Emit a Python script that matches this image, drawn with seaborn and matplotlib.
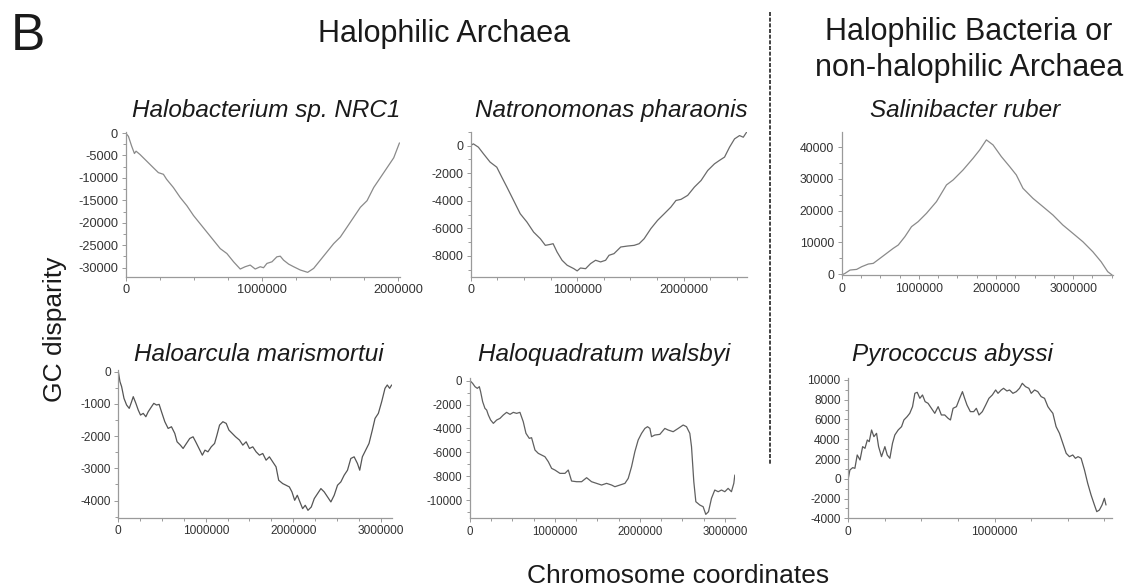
import numpy as np
import matplotlib
matplotlib.use("Agg")
import matplotlib.pyplot as plt
import seaborn as sns
from matplotlib.lines import Line2D
from matplotlib.ticker import MultipleLocator, FuncFormatter

# ---------------- data (positions in Mb, GC disparity values) ----------------
titles = ["Halobacterium sp. NRC1", "Natronomonas pharaonis", "Salinibacter ruber",
          "Haloarcula marismortui", "Haloquadratum walsbyi", "Pyrococcus abyssi"]

halobacterium_x = [0, .020, .044, .064, .076, .105, .154, .203, .240, .277, .300, .350, .400, .449, .498,
                   .547, .596, .645, .694, .743, .792, .841, .877, .914, .951, .988, 1.012, 1.037, 1.074,
                   1.110, 1.135, 1.159, 1.196, 1.233, 1.282, 1.336, 1.380, 1.429, 1.478, 1.527, 1.576,
                   1.625, 1.674, 1.723, 1.772, 1.821, 1.870, 1.919, 1.968, 2.010]
halobacterium_y = [0, -735, -2940, -4560, -4040, -4780, -6250, -7720, -8820, -9190, -10290, -12130,
                   -14340, -16180, -18380, -20220, -22060, -23900, -25740, -26840, -28680, -30290,
                   -29780, -29410, -30290, -29780, -30000, -29040, -28680, -27570, -27430, -28310,
                   -29190, -29780, -30510, -31030, -30150, -28310, -26470, -24630, -23160, -20960,
                   -18750, -16540, -15070, -12130, -9930, -7720, -5510, -2200]

natronomonas_x = [0, .025, .072, .120, .182, .245, .292, .340, .403, .465, .528, .591, .654, .701, .748,
                  .774, .811, .858, .906, .969, 1.000, 1.031, 1.079, 1.126, 1.173, 1.220, 1.267, 1.299,
                  1.346, 1.409, 1.472, 1.535, 1.582, 1.629, 1.692, 1.755, 1.818, 1.880, 1.928, 1.975,
                  2.038, 2.101, 2.164, 2.226, 2.289, 2.336, 2.384, 2.431, 2.478, 2.525, 2.560, 2.590]
natronomonas_y = [0, 120, -120, -600, -1200, -1570, -2290, -3010, -3980, -4940, -5540, -6270, -6750,
                  -7230, -7160, -7110, -7710, -8310, -8670, -8920, -9080, -8870, -8920, -8550, -8310,
                  -8430, -8310, -7950, -7830, -7350, -7280, -7230, -7110, -6750, -6020, -5420, -4940,
                  -4460, -3980, -3900, -3610, -3010, -2530, -1810, -1330, -1080, -840, -120, 480, 720,
                  600, 950]

salinibacter_x = [0, .043, .108, .194, .259, .345, .409, .496, .582, .668, .733, .819, .905, .991, 1.099,
                  1.228, 1.358, 1.444, 1.573, 1.703, 1.789, 1.875, 1.961, 2.069, 2.177, 2.263, 2.349,
                  2.478, 2.608, 2.737, 2.866, 2.996, 3.125, 3.254, 3.362, 3.448, 3.504]
salinibacter_y = [-300, 210, 1260, 1470, 2320, 3160, 3370, 4950, 6530, 8110, 9160, 11790, 14950, 16530,
                  19160, 22840, 28110, 29680, 32840, 36530, 39160, 42320, 40740, 37050, 33890, 31260,
                  27050, 23890, 21260, 18630, 15470, 12840, 10210, 7050, 3890, 740, -300]

haloarcula_x = [0, .019, .038, .065, .095, .125, .152, .171, .201, .228,
                .254, .285, .315, .342, .38, .406, .437, .467, .494, .532,
                .57, .608, .646, .672, .71, .741, .779, .817, .855, .885,
                .923, .961, .991, 1.025, 1.063, 1.101, 1.128, 1.158, 1.196, 1.234,
                1.265, 1.303, 1.341, 1.386, 1.424, 1.462, 1.5, 1.538, 1.576, 1.614,
                1.652, 1.69, 1.728, 1.766, 1.804, 1.834, 1.88, 1.918, 1.956, 1.986,
                2.017, 2.047, 2.077, 2.108, 2.138, 2.169, 2.207, 2.241, 2.279, 2.317,
                2.355, 2.393, 2.431, 2.469, 2.507, 2.545, 2.583, 2.621, 2.659, 2.697,
                2.735, 2.761, 2.791, 2.829, 2.867, 2.905, 2.936, 2.974, 3.012, 3.05,
                3.076, 3.103, 3.126]
haloarcula_y = [0, -311, -466, -829, -1036, -1140, -933, -777, -984, -1192,
                -1347, -1295, -1399, -1244, -1088, -984, -1036, -1016, -1244, -1554,
                -1762, -1710, -1917, -2176, -2280, -2383, -2228, -2073, -2021, -2176,
                -2383, -2591, -2435, -2487, -2332, -2228, -1969, -1658, -1554, -1606,
                -1813, -1917, -2021, -2124, -2280, -2176, -2383, -2332, -2487, -2591,
                -2539, -2746, -2642, -2798, -2953, -3368, -3472, -3523, -3575, -3731,
                -3990, -3834, -4041, -4249, -4145, -4301, -4197, -3938, -3782, -3627,
                -3731, -3886, -4041, -3834, -3523, -3420, -3212, -3057, -2694, -2642,
                -2850, -3057, -2642, -2435, -2228, -1813, -1451, -1295, -933, -518,
                -415, -518, -415]

haloquadratum_x = [0, .031, .059, .086, .11, .125, .149, .176, .196, .216,
                   .243, .275, .314, .353, .392, .431, .471, .51, .549, .588,
                   .627, .659, .698, .725, .765, .804, .843, .882, .922, .961,
                   1.0, 1.059, 1.118, 1.157, 1.196, 1.255, 1.314, 1.373, 1.431, 1.49,
                   1.549, 1.608, 1.667, 1.706, 1.765, 1.824, 1.863, 1.902, 1.941, 1.98,
                   2.02, 2.059, 2.09, 2.118, 2.137, 2.176, 2.235, 2.294, 2.333, 2.392,
                   2.451, 2.51, 2.549, 2.588, 2.608, 2.635, 2.659, 2.706, 2.745, 2.776,
                   2.808, 2.843, 2.882, 2.922, 2.961, 3.0, 3.039, 3.078, 3.106, 3.118]
haloquadratum_y = [0, -223, -503, -642, -503, -922, -1760, -2318, -2458, -2877,
                   -3296, -3575, -3296, -3156, -2877, -2654, -2821, -2654, -2737, -2654,
                   -3436, -4413, -4832, -4777, -5810, -6089, -6229, -6369, -6788, -7346,
                   -7486, -7765, -7765, -7486, -8408, -8464, -8464, -8128, -8464, -8603,
                   -8743, -8603, -8743, -8883, -8743, -8603, -8184, -7207, -5950, -4972,
                   -4413, -4000, -3855, -4000, -4693, -4553, -4497, -4000, -4134, -4274,
                   -4000, -3715, -3855, -4413, -5531, -8464, -10140, -10419, -10559, -11201,
                   -10978, -9860, -9162, -9302, -9162, -9302, -9022, -9302, -8603, -7905]

pyrococcus_x = [0, .011, .03, .045, .061, .08, .098, .114, .13, .143,
                .159, .175, .193, .207, .227, .25, .266, .284, .302, .318,
                .341, .364, .38, .402, .42, .439, .455, .471, .489, .507,
                .525, .545, .568, .591, .614, .636, .659, .682, .698, .716,
                .739, .761, .78, .795, .811, .834, .857, .875, .893, .916,
                .939, .961, .984, 1.007, 1.023, 1.045, 1.061, 1.084, 1.102, 1.125,
                1.148, 1.17, 1.189, 1.211, 1.234, 1.25, 1.273, 1.295, 1.318, 1.341,
                1.364, 1.38, 1.398, 1.42, 1.443, 1.466, 1.489, 1.511, 1.534, 1.552,
                1.57, 1.591, 1.614, 1.636, 1.659, 1.682, 1.698, 1.716, 1.734, 1.75,
                1.761]
pyrococcus_y = [47, 890, 1127, 1059, 2409, 1903, 3253, 3084, 3927, 3758,
                4939, 4264, 4602, 3253, 2241, 3253, 2409, 2072, 3590, 4433,
                4939, 5277, 5952, 6289, 6626, 7301, 8650, 8752, 8144, 8481,
                7807, 7638, 7132, 6626, 7301, 6458, 6458, 6120, 5952, 7132,
                7301, 8144, 8819, 8144, 7469, 6795, 6795, 7132, 6458, 6795,
                7469, 8144, 8481, 8988, 8650, 8988, 9157, 8887, 8988, 8650,
                8819, 9157, 9663, 9326, 9157, 8650, 8988, 8819, 8313, 8144,
                7301, 6964, 6626, 5277, 4602, 3590, 2578, 2241, 2409, 2072,
                2241, 2072, 890, -459, -1640, -2652, -3327, -3158, -2652, -1977,
                -2652]

xs_mb = [halobacterium_x, natronomonas_x, salinibacter_x, haloarcula_x, haloquadratum_x, pyrococcus_x]
ys = [halobacterium_y, natronomonas_y, salinibacter_y, haloarcula_y, haloquadratum_y, pyrococcus_y]
genome_len = [2014000, 2595000, 3520000, 3130000, 3120000, 1800000]
ylims = [(-32000, 300), (-9500, 1000), (-300, 44900), (-4530, 50), (-11530, 200), (-4000, 10200)]
ystep = [5000, 2000, 10000, 1000, 2000, 2000]

# ---------------- layout / style ----------------
sns.set_theme(style="white")
plt.rcParams['font.family'] = ['Liberation Sans', 'DejaVu Sans']
plt.rcParams['axes.unicode_minus'] = False

W, H = 1132, 586
fig = plt.figure(figsize=(W / 100, H / 100), dpi=100)

def box(l, t, r, b):
    return [l / W, 1 - b / H, (r - l) / W, (b - t) / H]

rects = [box(125.7, 131.7, 400, 276.7), box(470.7, 131.7, 747, 276.7), box(841.7, 131.7, 1113.3, 275),
         box(118.3, 370, 392, 517.7), box(470, 378.3, 735, 518.3), box(848.3, 378, 1111.7, 518.3)]
title_pos = [(266, 117), (611, 117), (965, 117), (259, 361), (604, 361), (952, 361)]
line_col = ['#8a8a8a', '#6a6a6a', '#8a8a8a', '#555555', '#606060', '#5a5a5a']
tick_fs = [9.2, 9.0, 8.8, 8.6, 8.3, 8.6]

fmt = FuncFormatter(lambda v, p: f"{int(round(v))}")

for i in range(6):
    ax = fig.add_axes(rects[i])
    x_bp = np.asarray(xs_mb[i]) * 1e6
    sns.lineplot(x=x_bp, y=ys[i], ax=ax, color=line_col[i], linewidth=0.9,
                 sort=False, estimator=None)
    ax.set_xlim(0, genome_len[i])
    ax.set_ylim(*ylims[i])
    ax.xaxis.set_major_locator(MultipleLocator(1000000))
    ax.xaxis.set_minor_locator(MultipleLocator(250000))
    ax.yaxis.set_major_locator(MultipleLocator(ystep[i]))
    ax.yaxis.set_minor_locator(MultipleLocator(ystep[i] / 2))
    ax.xaxis.set_major_formatter(fmt)
    ax.yaxis.set_major_formatter(fmt)
    ax.set_xlabel("")
    ax.set_ylabel("")
    for s in ['top', 'right']:
        ax.spines[s].set_visible(False)
    for s in ['left', 'bottom']:
        ax.spines[s].set_color('#9a9a9a')
        ax.spines[s].set_linewidth(0.9)
    ax.tick_params(which='both', direction='out', color='#9a9a9a', width=0.7,
                   labelcolor='#333333', labelsize=tick_fs[i], pad=2.5)
    ax.tick_params(which='major', length=3, left=True, bottom=True)
    ax.tick_params(which='minor', length=2, left=True, bottom=True)
    ax.set_facecolor('white')
    tx, ty = title_pos[i]
    fig.text(tx / W, 1 - ty / H, titles[i], ha='center', va='baseline',
             fontsize=17.5, style='italic', color='#1a1a1a')

# big headers
fig.text(11 / W, 1 - 50 / H, "B", ha='left', va='baseline', fontsize=37, color='#1a1a1a')
fig.text(444 / W, 1 - 42 / H, "Halophilic Archaea", ha='center', va='baseline',
         fontsize=22, color='#1a1a1a')
fig.text(969 / W, 1 - 40 / H, "Halophilic Bacteria or", ha='center', va='baseline',
         fontsize=22, color='#1a1a1a')
fig.text(969 / W, 1 - 76 / H, "non-halophilic Archaea", ha='center', va='baseline',
         fontsize=22, color='#1a1a1a')

fig.text(55 / W, 1 - 329 / H, "GC disparity", rotation=90, ha='center', va='center',
         fontsize=19, color='#1a1a1a')
fig.text(678 / W, 1 - 583 / H, "Chromosome coordinates", ha='center', va='baseline',
         fontsize=19, color='#1a1a1a')

fig.add_artist(Line2D([770 / W, 770 / W], [1 - 12 / H, 1 - 465 / H], transform=fig.transFigure,
                      color='#222222', linewidth=1.2, linestyle=(0, (2.4, 1.0))))

fig.savefig("out.png", dpi=100, facecolor='white')
